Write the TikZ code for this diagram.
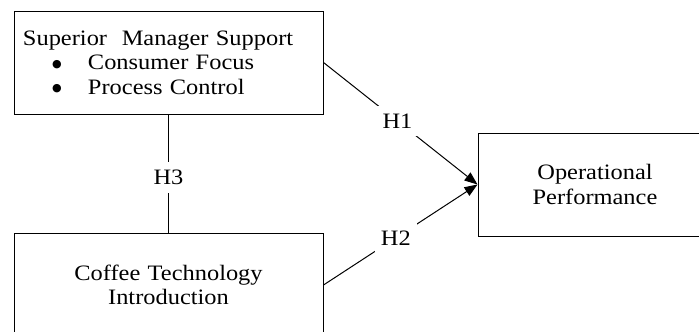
\documentclass[tikz,border=0pt]{standalone}
\usepackage{fontspec}
\setmainfont{Liberation Serif}[FakeStretch=1.11]
\newfontfamily\symfont{DejaVu Sans}
\usetikzlibrary{arrows.meta}
\tikzset{
  box/.style={
    draw,
    rectangle,
    line width=1pt,
    inner xsep=9pt,
    inner ysep=0pt,
    minimum height=103pt,
  },
  hyp/.style={
    fill=white,
    inner xsep=6pt,
    inner ysep=8pt,
  },
  link/.style={
    line width=1pt,
  },
}
\newcommand{\bulletitem}[1]{%
  \makebox[65pt][l]{\hspace{29pt}\raisebox{2.5pt}{\symfont\fontsize{11}{11}\selectfont ●}}#1}

\begin{document}
\begin{tikzpicture}[x=1pt,y=-1pt,font=\fontsize{22}{24.5}\selectfont]
  \useasboundingbox (0,0) rectangle (699,332);
  \clip (0,0) rectangle (699,332);
    \node[box,text width=291pt,align=left] (sms) at (168.5,62.5)
      {Superior\ \ Manager Support\\
       \bulletitem{Consumer Focus}\\
       \bulletitem{Process Control}};
    \node[box,text width=291pt,align=center] (cti) at (168.5,285)
      {Coffee Technology\\ Introduction};
    \node[box,text width=216pt,align=center] (op) at (595,184.5)
      {Operational\\ Performance};
    \draw[link,-{Triangle[length=13pt,width=10pt]}] (sms.east)
      -- node[hyp,pos=0.48] {H1} (op.west);
    \draw[link,-{Triangle[length=13pt,width=10pt]}] (cti.east)
      -- node[hyp,pos=0.47] {H2} (op.west);
    \draw[link] (sms.south) -- node[hyp,pos=0.53] {H3} (cti.north);
  \end{tikzpicture}
\end{document}
